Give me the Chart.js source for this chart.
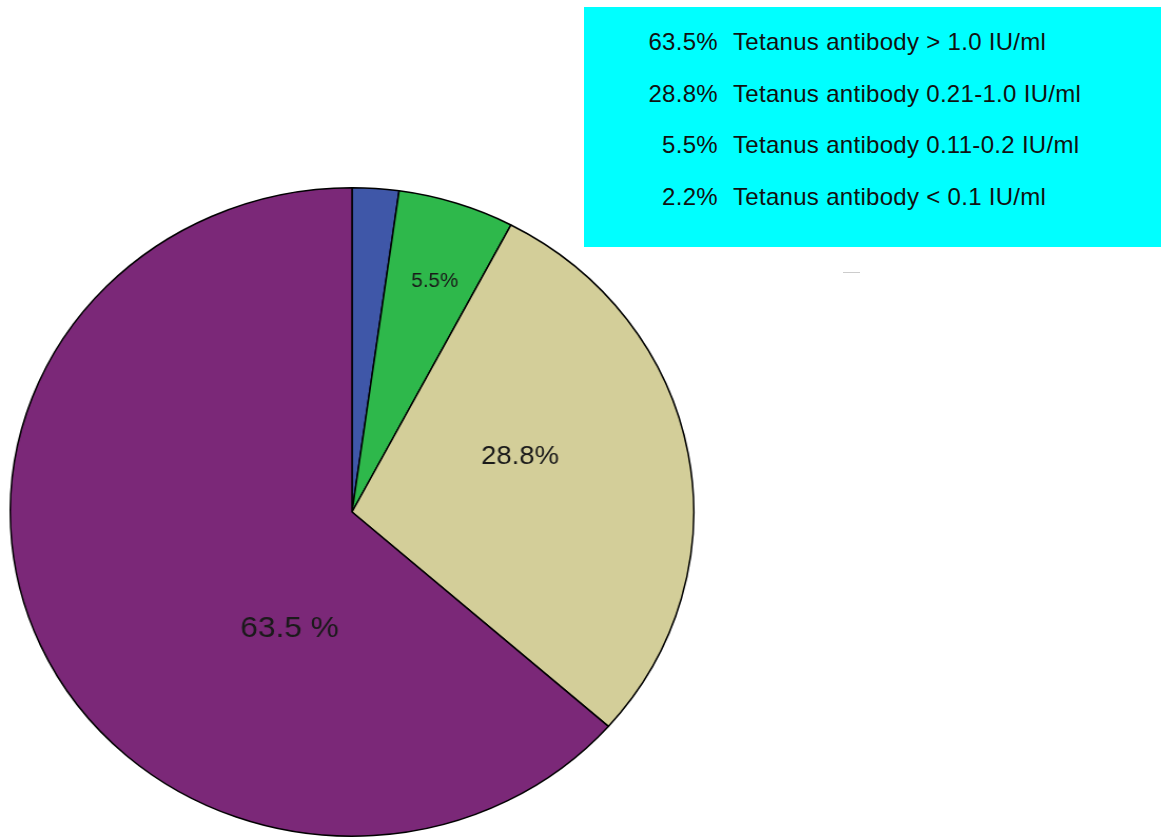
<!DOCTYPE html>
<html>
<head>
<meta charset="utf-8">
<script src="https://cdn.jsdelivr.net/npm/chart.js@4.4.0/dist/chart.umd.min.js"></script>
<style>
    body { margin: 0; background: #fff; width: 1167px; height: 838px; overflow: hidden; position: relative; font-family: "Liberation Sans", Arial, sans-serif; }
    #pieWrap { position: absolute; left: 22px; top: 182px; width: 660px; height: 660px; transform: scaleX(1.054); transform-origin: 330px 330px; }
    #legendBox { position: absolute; left: 584px; top: 7px; width: 577px; height: 240px; background: #00ffff; }
    .legendRow { position: absolute; left: 0; width: 100%; font-size: 24px; letter-spacing: 0.3px; color: #111; white-space: nowrap; }
    .legendRow .pct { position: absolute; left: 14px; width: 120px; text-align: right; }
    .legendRow .txt { position: absolute; left: 149px; }
    #dash { position: absolute; left: 843px; top: 272px; width: 17px; height: 1px; background: #ccc; }
</style>
</head>
<body>
<div id="pieWrap"><canvas id="pieChart" width="660" height="660"></canvas></div>
<div id="legendBox"></div>
<div id="dash"></div>
<script>
// slices clockwise from 12 o'clock
const categories = [
    "Tetanus antibody < 0.1 IU/ml",
    "Tetanus antibody 0.11-0.2 IU/ml",
    "Tetanus antibody 0.21-1.0 IU/ml",
    "Tetanus antibody > 1.0 IU/ml",
];
const percents = [2.2, 5.5, 28.8, 63.5];
const sliceLabels = ["", "5.5%", "28.8%", "63.5 %"];
const sliceColors = ["#3f57a8", "#2eb84b", "#d3ce99", "#7b2878"];

// legend is listed largest first
const legendOrder = [3, 2, 1, 0];

// where each slice label sits: angle (deg from top, clockwise), fraction of radius, font size
const labelPlacement = [null, [18.8, 0.752, 19.5], [71, 0.52, 26], [206.8, 0.405, 30]];

const legendBox = document.getElementById("legendBox");
legendOrder.forEach((idx, row) => {
    const div = document.createElement("div");
    div.className = "legendRow";
    div.style.top = (21 + row * 51.5) + "px";
    const pct = document.createElement("span");
    pct.className = "pct";
    pct.textContent = percents[idx] + "%";
    const txt = document.createElement("span");
    txt.className = "txt";
    txt.textContent = categories[idx];
    div.appendChild(pct);
    div.appendChild(txt);
    legendBox.appendChild(div);
});

const sliceLabelPlugin = {
    id: "sliceLabels",
    afterDatasetsDraw(chart) {
        const ctx = chart.ctx;
        const arcs = chart.getDatasetMeta(0).data;
        ctx.save();
        ctx.fillStyle = "#1a1a1a";
        ctx.textAlign = "center";
        ctx.textBaseline = "middle";
        arcs.forEach((arc, i) => {
            const place = labelPlacement[i];
            if (!place || !sliceLabels[i]) return;
            const a = (place[0] - 90) * Math.PI / 180;
            const r = arc.outerRadius * place[1];
            ctx.font = place[2] + 'px "Liberation Sans", Arial, sans-serif';
            ctx.fillText(sliceLabels[i], arc.x + Math.cos(a) * r, arc.y + Math.sin(a) * r);
        });
        ctx.restore();
    },
};

new Chart(document.getElementById("pieChart").getContext("2d"), {
    type: "pie",
    data: {
        labels: categories,
        datasets: [{
            data: percents,
            backgroundColor: sliceColors,
            borderColor: "#000",
            borderWidth: 1.5,
        }],
    },
    options: {
        responsive: false,
        animation: false,
        layout: { padding: 5 },
        plugins: {
            legend: { display: false },
            tooltip: { enabled: false },
        },
    },
    plugins: [sliceLabelPlugin],
});
</script>
</body>
</html>
